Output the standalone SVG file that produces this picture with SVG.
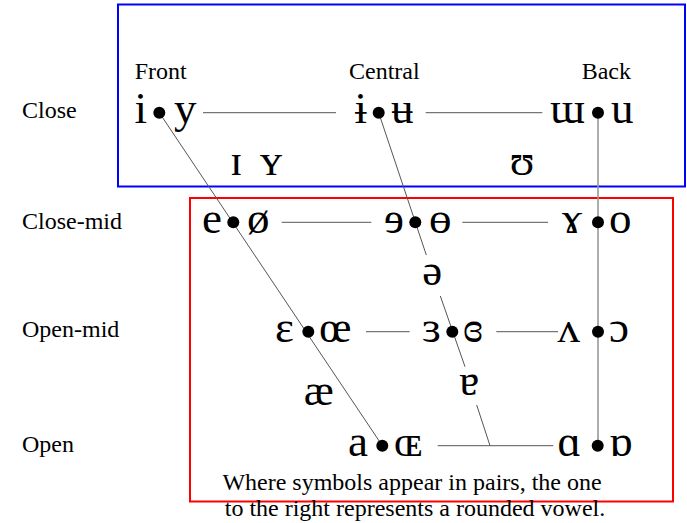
<svg xmlns="http://www.w3.org/2000/svg" width="687" height="523" viewBox="0 0 687 523">
<style>
.lbl{font-family:"Liberation Serif","Times New Roman",serif;font-size:24px;fill:#000}
.v{font-family:"Liberation Serif","DejaVu Serif",serif;font-size:45px;fill:#000}
.l{text-anchor:end}
.c{text-anchor:middle}
.ln{stroke:#555;stroke-width:1;fill:none}
.bk{stroke:#999;stroke-width:1.6;fill:none}
.dot{fill:#000}
</style>
<rect width="687" height="523" fill="#fff"/>
<rect x="118" y="4.5" width="567" height="182" fill="none" stroke="#0000ff" stroke-width="2"/>
<rect x="190" y="198" width="483" height="303.5" fill="none" stroke="#ff0000" stroke-width="2"/>
<g id="connectors">
<line class="ln" x1="159.3" y1="112.7" x2="382.3" y2="445.7"/>
<line class="ln" x1="378.7" y1="112.7" x2="426.3" y2="255"/>
<line class="ln" x1="440.3" y1="296" x2="465" y2="366.7"/>
<line class="ln" x1="476.7" y1="405" x2="490" y2="445.7"/>
<line class="bk" x1="598" y1="112.7" x2="598" y2="445.7"/>
<line class="ln" x1="203" y1="112.7" x2="336" y2="112.7"/>
<line class="ln" x1="425.7" y1="112.7" x2="542.3" y2="112.7"/>
<line class="ln" x1="281.7" y1="222.3" x2="371.3" y2="222.3"/>
<line class="ln" x1="462.3" y1="222.3" x2="548" y2="222.3"/>
<line class="ln" x1="366" y1="331.7" x2="409.7" y2="331.7"/>
<line class="ln" x1="496.3" y1="331.7" x2="558" y2="331.7"/>
<line class="ln" x1="437.7" y1="445.7" x2="553.3" y2="445.7"/>
</g>
<g id="labels">
<text class="lbl" x="22" y="118">Close</text>
<text class="lbl" x="22" y="229">Close-mid</text>
<text class="lbl" x="22" y="337">Open-mid</text>
<text class="lbl" x="22" y="452">Open</text>
<text class="lbl" x="134.7" y="79">Front</text>
<text class="lbl" x="349" y="79">Central</text>
<text class="lbl" x="581.7" y="79">Back</text>
</g>
<g id="close-front"><text class="v l" x="147" y="122.5">i</text><circle class="dot" cx="159.3" cy="112.7" r="6"/><text class="v" x="174" y="122.5">y</text></g>
<g id="close-central"><text class="v l" x="367" y="122.5">ɨ</text><circle class="dot" cx="378.7" cy="112.7" r="6"/><text class="v" x="391" y="122.5">ʉ</text></g>
<g id="close-back"><text class="v l" x="585" y="122.5">ɯ</text><circle class="dot" cx="598" cy="112.7" r="6"/><text class="v" x="611" y="122.5">u</text></g>
<g id="near-close"><text class="v" x="230" y="175">ɪ</text><text class="v" x="260" y="175">ʏ</text><text class="v c" x="522" y="175">ʊ</text></g>
<g id="closemid-front"><text class="v l" x="222" y="232.5">e</text><circle class="dot" cx="233.3" cy="222.3" r="6"/><text class="v" x="247" y="232.5">ø</text></g>
<g id="closemid-central"><text class="v l" x="404" y="232.5">ɘ</text><circle class="dot" cx="415.3" cy="222.3" r="6"/><text class="v" x="429" y="232.5">ɵ</text></g>
<g id="closemid-back"><text class="v l" x="582" y="232.5">ɤ</text><circle class="dot" cx="598" cy="222.3" r="6"/><text class="v" x="609" y="232.5">o</text></g>
<g id="mid-central"><text class="v c" x="432.3" y="285">ə</text></g>
<g id="openmid-front"><text class="v l" x="294" y="342">ɛ</text><circle class="dot" cx="308.3" cy="331.7" r="6"/><text class="v" x="319" y="342">œ</text></g>
<g id="openmid-central"><text class="v l" x="441" y="342">ɜ</text><circle class="dot" cx="452.3" cy="331.7" r="6"/><text class="v" x="463" y="342">ɞ</text></g>
<g id="openmid-back"><text class="v l" x="580" y="342">ʌ</text><circle class="dot" cx="598" cy="331.7" r="6"/><text class="v" x="609" y="342">ɔ</text></g>
<g id="near-open"><text class="v c" x="318.7" y="405">æ</text><text class="v c" x="469.3" y="395">ɐ</text></g>
<g id="open-front"><text class="v l" x="368" y="455.5">a</text><circle class="dot" cx="382.3" cy="445.7" r="6"/><text class="v" x="394" y="455.5">ɶ</text></g>
<g id="open-back"><text class="v l" x="581" y="455.5">ɑ</text><circle class="dot" cx="597.7" cy="445.7" r="6"/><text class="v" x="609" y="455.5">ɒ</text></g>
<g id="caption">
<text class="lbl c" x="412" y="490">Where symbols appear in pairs, the one</text>
<text class="lbl c" x="415" y="515.7">to the right represents a rounded vowel.</text>
</g>
</svg>
